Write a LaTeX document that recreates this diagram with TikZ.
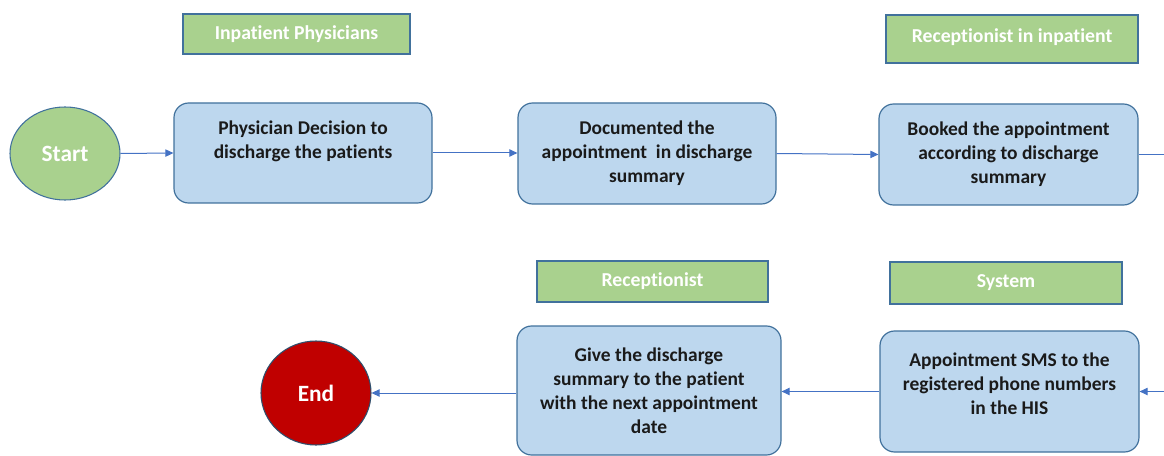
\documentclass[tikz,border=0pt]{standalone}
\usepackage{fontspec}
\setmainfont{Carlito}[Ligatures=NoCommon]
\usetikzlibrary{arrows.meta,shapes.geometric}
\definecolor{boxfill}{HTML}{BDD7EE}
\definecolor{boxdraw}{HTML}{41719C}
\definecolor{lblfill}{HTML}{A9D18E}
\definecolor{endfill}{HTML}{C00000}
\definecolor{arrowc}{HTML}{4472C4}
\definecolor{txt}{HTML}{1A1A1A}
\newcommand{\raisedtext}[2]{\parbox{180pt}{\centering #2\par\vspace{#1}}}
\tikzset{
  stepbox/.style={draw=boxdraw, line width=0.9pt, fill=boxfill, rounded corners=11pt,
    align=center, text=txt, inner sep=0pt,
    font=\fontsize{14.6}{18}\selectfont\bfseries},
  rolebox/.style={draw=boxdraw, line width=0.8pt, fill=lblfill, inner sep=0pt,
    text=white, font=\fontsize{14.8}{17}\selectfont\bfseries},
  term/.style={ellipse, draw=boxdraw, line width=0.8pt, inner sep=0pt,
    text=white, font=\fontsize{17.5}{20}\selectfont\bfseries},
  conn/.style={draw=arrowc, line width=0.75pt, -{Triangle[length=6pt,width=5.5pt]}},
  connplain/.style={draw=arrowc, line width=0.75pt}
}
\begin{document}
\begin{tikzpicture}[x=0.75pt,y=-0.75pt]
\useasboundingbox (0,0) rectangle (1164,456);
% role labels
\node[rolebox, minimum width=227*0.75pt, minimum height=40*0.75pt] (l1) at (296.5,34) {\raisebox{1pt}{Inpatient Physicians}};
\node[rolebox, minimum width=252*0.75pt, minimum height=48*0.75pt] (l2) at (1012,39) {\raisebox{4.5pt}{Receptionist in inpatient}};
\node[rolebox, minimum width=231*0.75pt, minimum height=41*0.75pt] (l3) at (652.5,281.5) {Receptionist};
\node[rolebox, minimum width=232*0.75pt, minimum height=42*0.75pt] (l4) at (1006,283) {System};
% terminals
\node[term, fill=lblfill, minimum width=110*0.75pt, minimum height=93*0.75pt] (start) at (65,153.5) {Start};
\node[term, fill=endfill, draw=boxdraw!70!black, minimum width=110*0.75pt, minimum height=104*0.75pt] (end) at (316,393) {End};
% steps
\node[stepbox, minimum width=258*0.75pt, minimum height=100*0.75pt] (b1) at (303,153) {\raisedtext{18pt}{Physician Decision to\\discharge the patients}};
\node[stepbox, minimum width=258*0.75pt, minimum height=101*0.75pt] (b2) at (647,153.5) {Documented the\\appointment\ \ in discharge\\summary};
\node[stepbox, minimum width=259*0.75pt, minimum height=101*0.75pt] (b3) at (1008.5,154.5) {Booked the appointment\\according to discharge\\summary};
\node[stepbox, minimum width=259*0.75pt, minimum height=121*0.75pt] (b5) at (1009.5,391.5) {\raisedtext{12pt}{Appointment SMS to the\\registered phone numbers\\in the HIS}};
\node[stepbox, minimum width=264*0.75pt, minimum height=129*0.75pt] (b4) at (649,390.5) {Give the discharge\\summary to the patient\\with the next appointment\\date};
% connectors
\coordinate (r1) at (1166,154.5);
\coordinate (r2) at (1166,391.5);
\draw[conn] (start.east) -- (b1.west);
\draw[conn] (b1.east) -- (b2.west |- b1.east);
\draw[conn] (b2.east) -- (b3.west);
\draw[connplain] (b3.east) -- (r1);
\draw[conn] (r2) -- (b5.east);
\draw[conn] (b5.west) -- (b4.east |- b5.west);
\draw[conn] (b4.west |- end.east) -- (end.east);
\end{tikzpicture}
\end{document}
